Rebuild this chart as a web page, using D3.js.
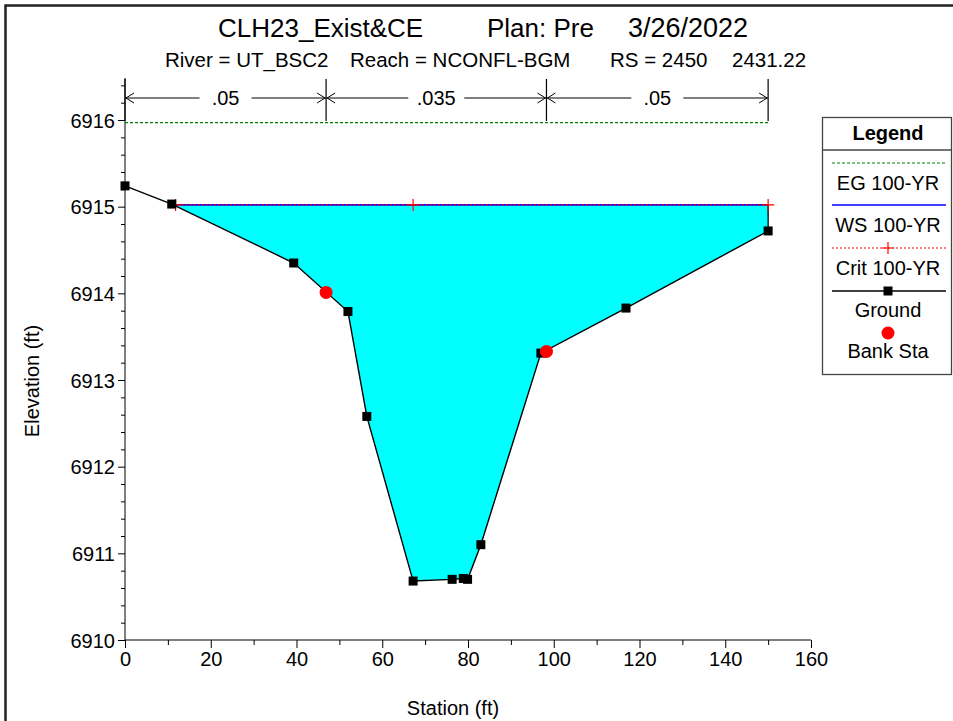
<!DOCTYPE html>
<html><head><meta charset="utf-8">
<script src="https://cdn.jsdelivr.net/npm/d3@7"></script>
<style>body{margin:0;background:#fff;overflow:hidden} text{font-family:"Liberation Sans",Arial,sans-serif}</style>
</head><body><svg id="c" width="953" height="721"></svg>
<script>
// ---- data ----
const stations   = [0, 10.9, 39.35, 52.0, 56.4, 67.2, 76.3, 78.9, 79.9, 83.0, 97.0, 116.85, 150.0];
const elevations = [6915.24, 6915.03, 6914.35, 6913.79, 6912.58, 6910.68, 6910.70, 6910.71, 6910.70, 6911.10, 6913.31, 6913.83, 6914.72];
const bankStations   = [46.9, 98.3];
const bankElevations = [6914.01, 6913.33];
const wsElev = 6915.02;
const critElev = 6915.02;
const egElev = 6915.97;
const egStations = [0, 150];
const critMarkStations = [11.8, 67.2, 150];
const nStations = [0, 46.9, 98.3, 150];
const nValues = [".05", ".035", ".05"];
const xTicks = [0, 20, 40, 60, 80, 100, 120, 140, 160];
const yTicks = [6910, 6911, 6912, 6913, 6914, 6915, 6916];
const legendLabels = ["EG 100-YR", "WS 100-YR", "Crit 100-YR", "Ground", "Bank Sta"];

const svg = d3.select("#c");
const x = d3.scaleLinear().domain([0, 160]).range([125, 811]);
const y = d3.scaleLinear().domain([6910, 6916]).range([640, 120]);

// outer border
svg.append("rect").attr("x", 5.5).attr("y", 5.5).attr("width", 1000).attr("height", 800)
  .attr("fill", "none").attr("stroke", "#222").attr("stroke-width", 2.5);

// titles
const T = svg.append("g").attr("font-size", 26).attr("fill", "#000");
T.append("text").attr("x", 218).attr("y", 37).text("CLH23_Exist&CE");
T.append("text").attr("x", 487).attr("y", 37).text("Plan: Pre");
T.append("text").attr("x", 628).attr("y", 37).attr("font-size", 27).text("3/26/2022");
const S = svg.append("g").attr("font-size", 20.5).attr("fill", "#000");
S.append("text").attr("x", 165).attr("y", 67).text("River = UT_BSC2");
S.append("text").attr("x", 350).attr("y", 67).text("Reach = NCONFL-BGM");
S.append("text").attr("x", 610).attr("y", 67).text("RS = 2450");
S.append("text").attr("x", 732).attr("y", 67).text("2431.22");

// water fill polygon
const gpts = stations.map((s, i) => [s, elevations[i]]);
function crossLeft() {
  for (let i = 0; i < gpts.length - 1; i++) {
    const [s0, e0] = gpts[i], [s1, e1] = gpts[i + 1];
    if (e0 >= wsElev && e1 < wsElev) return [s0 + (e0 - wsElev) / (e0 - e1) * (s1 - s0), i + 1];
  }
  return [gpts[0][0], 0];
}
const [sL, iL] = crossLeft();
const poly = [[sL, wsElev]];
for (let i = iL; i < gpts.length; i++) poly.push(gpts[i]);
poly.push([gpts[gpts.length - 1][0], wsElev]);
svg.append("path").attr("d", d3.line().x(d => x(d[0])).y(d => y(d[1]))(poly) + "Z")
  .attr("fill", "#00FFFF").attr("stroke", "none");
// end wall
svg.append("line").attr("x1", x(150)).attr("x2", x(150)).attr("y1", y(elevations[elevations.length - 1])).attr("y2", y(wsElev))
  .attr("stroke", "#000").attr("stroke-width", 1.3);

// axes
const yAx = svg.append("g").attr("transform", `translate(${x(0)},0)`)
  .call(d3.axisLeft(y).tickValues(yTicks).tickSize(7).tickPadding(3).tickFormat(d3.format("d")));
yAx.select(".domain").remove();
yAx.selectAll("text").attr("font-size", 20).attr("font-family", "Liberation Sans, Arial, sans-serif").attr("dy", "0.36em");
const yMinor = d3.range(60).map(i => 6910 + i * 0.2).filter(v => Math.abs(v - Math.round(v)) > 0.01 && v < 6916.5);
const yAx2 = svg.append("g").attr("transform", `translate(${x(0)},0)`)
  .call(d3.axisLeft(y).tickValues(yMinor).tickSize(4).tickFormat(""));
yAx2.select(".domain").remove();
svg.append("line").attr("x1", x(0)).attr("x2", x(0)).attr("y1", y(6910)).attr("y2", 78).attr("stroke", "#000");

const xAx = svg.append("g").attr("transform", `translate(0,${y(6910)})`)
  .call(d3.axisBottom(x).tickValues(xTicks).tickSize(8).tickPadding(4));
xAx.select(".domain").remove();
xAx.selectAll("text").attr("font-size", 20).attr("font-family", "Liberation Sans, Arial, sans-serif");
const xAx2 = svg.append("g").attr("transform", `translate(0,${y(6910)})`)
  .call(d3.axisBottom(x).tickValues(d3.range(10, 160, 20)).tickSize(5).tickFormat(""));
xAx2.select(".domain").remove();
svg.append("line").attr("x1", x(0)).attr("x2", x(160)).attr("y1", y(6910)).attr("y2", y(6910)).attr("stroke", "#000");
svg.selectAll(".tick line").attr("stroke", "#000");

svg.append("text").attr("x", 453).attr("y", 715).attr("text-anchor", "middle").attr("font-size", 20).text("Station (ft)");
svg.append("text").attr("transform", "translate(39,381) rotate(-90)").attr("text-anchor", "middle").attr("font-size", 20).text("Elevation (ft)");

// Manning's n bar
const nY = 98;
const nG = svg.append("g");
nStations.forEach(s => nG.append("line").attr("x1", x(s)).attr("x2", x(s)).attr("y1", 79).attr("y2", 121).attr("stroke", "#000").attr("stroke-width", 1.2));
nValues.forEach((v, i) => {
  const a = x(nStations[i]), b = x(nStations[i + 1]);
  nG.append("line").attr("x1", a).attr("x2", b).attr("y1", nY).attr("y2", nY).attr("stroke", "#000");
  nG.append("path").attr("d", `M${a + 9},${nY - 5}L${a + 1},${nY}L${a + 9},${nY + 5}`).attr("fill", "none").attr("stroke", "#000");
  nG.append("path").attr("d", `M${b - 9},${nY - 5}L${b - 1},${nY}L${b - 9},${nY + 5}`).attr("fill", "none").attr("stroke", "#000");
  const cx = (a + b) / 2;
  nG.append("rect").attr("x", cx - 20 - v.length * 2).attr("y", nY - 10).attr("width", 40 + v.length * 4).attr("height", 20).attr("fill", "#fff");
  nG.append("text").attr("x", cx).attr("y", nY + 7).attr("text-anchor", "middle").attr("font-size", 20).text(v);
});

// EG line
svg.append("line").attr("x1", x(egStations[0])).attr("x2", x(egStations[1])).attr("y1", y(egElev)).attr("y2", y(egElev))
  .attr("stroke", "#008000").attr("stroke-width", 1.2).attr("stroke-dasharray", "3,2");
// WS line
svg.append("line").attr("x1", x(sL)).attr("x2", x(150)).attr("y1", y(wsElev)).attr("y2", y(wsElev))
  .attr("stroke", "#0000FF").attr("stroke-width", 1.8);
// Crit line
svg.append("line").attr("x1", x(sL)).attr("x2", x(150)).attr("y1", y(critElev)).attr("y2", y(critElev))
  .attr("stroke", "#FF0000").attr("stroke-width", 1.2).attr("stroke-dasharray", "2,2");
critMarkStations.forEach(s => {
  svg.append("path").attr("d", `M${x(s) - 6},${y(critElev)}H${x(s) + 6}M${x(s)},${y(critElev) - 6}V${y(critElev) + 6}`)
    .attr("stroke", "#FF0000").attr("stroke-width", 1.2);
});

// ground line + markers
svg.append("path").datum(gpts).attr("d", d3.line().x(d => x(d[0])).y(d => y(d[1])))
  .attr("fill", "none").attr("stroke", "#000").attr("stroke-width", 1.4);
svg.selectAll(".gm").data(gpts).enter().append("rect")
  .attr("x", d => x(d[0]) - 4.5).attr("y", d => y(d[1]) - 4.5).attr("width", 9).attr("height", 9).attr("fill", "#000");
// bank stations
svg.selectAll(".bk").data(bankStations).enter().append("circle")
  .attr("cx", d => x(d)).attr("cy", (d, i) => y(bankElevations[i])).attr("r", 6.5).attr("fill", "#FF0000");

// legend
const L = svg.append("g");
L.append("rect").attr("x", 822.5).attr("y", 117.5).attr("width", 129).attr("height", 257).attr("fill", "#fff").attr("stroke", "#444").attr("stroke-width", 1.3);
L.append("line").attr("x1", 822.5).attr("x2", 951.5).attr("y1", 150).attr("y2", 150).attr("stroke", "#444").attr("stroke-width", 1.3);
L.append("text").attr("x", 888).attr("y", 140).attr("text-anchor", "middle").attr("font-size", 20).attr("font-weight", "bold").text("Legend");
const lx1 = 832, lx2 = 946, lcx = 888;
L.append("line").attr("x1", lx1).attr("x2", lx2).attr("y1", 163).attr("y2", 163).attr("stroke", "#008000").attr("stroke-width", 1.2).attr("stroke-dasharray", "3,2");
L.append("line").attr("x1", lx1).attr("x2", lx2).attr("y1", 205).attr("y2", 205).attr("stroke", "#0000FF").attr("stroke-width", 1.6);
L.append("line").attr("x1", lx1).attr("x2", lx2).attr("y1", 248).attr("y2", 248).attr("stroke", "#FF0000").attr("stroke-width", 1.2).attr("stroke-dasharray", "2,2");
L.append("path").attr("d", `M${lcx - 6},248H${lcx + 6}M${lcx},242V254`).attr("stroke", "#FF0000").attr("stroke-width", 1.2);
L.append("line").attr("x1", lx1).attr("x2", lx2).attr("y1", 291).attr("y2", 291).attr("stroke", "#000").attr("stroke-width", 1.4);
L.append("rect").attr("x", lcx - 4.5).attr("y", 286.5).attr("width", 9).attr("height", 9).attr("fill", "#000");
L.append("circle").attr("cx", lcx).attr("cy", 333).attr("r", 6.5).attr("fill", "#FF0000");
const ly = [190, 232, 275, 317, 358];
legendLabels.forEach((t, i) => L.append("text").attr("x", lcx).attr("y", ly[i]).attr("text-anchor", "middle").attr("font-size", 20).text(t));
</script></body></html>
